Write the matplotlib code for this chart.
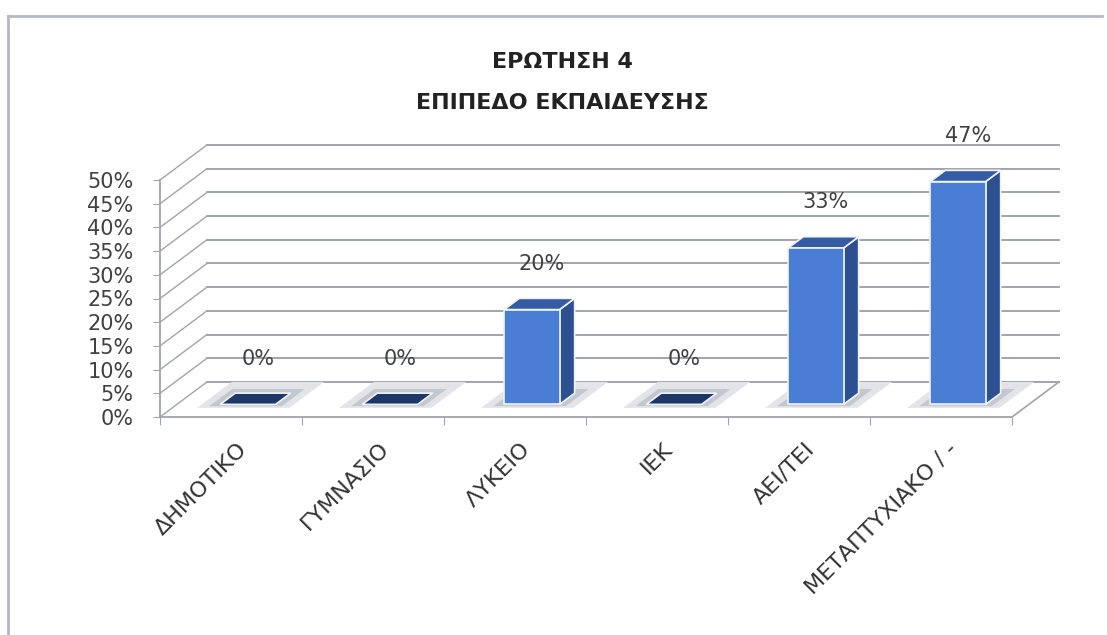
import numpy as np
import matplotlib.pyplot as plt
from matplotlib.patches import Polygon
from matplotlib.lines import Line2D

# --- data ---
categories = ["ΔΗΜΟΤΙΚΟ", "ΓΥΜΝΑΣΙΟ", "ΛΥΚΕΙΟ", "ΙΕΚ", "ΑΕΙ/ΤΕΙ", "ΜΕΤΑΠΤΥΧΙΑΚΟ / -"]
values = [0, 0, 20, 0, 33, 47]
yticks = [0, 5, 10, 15, 20, 25, 30, 35, 40, 45, 50]
title_lines = ["ΕΡΩΤΗΣΗ 4", "ΕΠΙΠΕΔΟ ΕΚΠΑΙΔΕΥΣΗΣ"]

# --- fake 3d projection (depth shifts right and up) ---
DX, DY = 0.331, 7.4      # full depth in x units / percent units
D0, D1 = 0.36, 0.68      # bar front / back depth
W = 0.39                 # bar width

grid_col = "#9fa4ae"
txt_col = "#404040"
front_col = "#4a7dd4"
side_col = "#2c5090"
top_col = "#345ca4"
flat_col = "#1d3768"


def proj(x, d, v):
    return (x + d * DX, v + d * DY)


fig = plt.figure(figsize=(11.07, 6.35), dpi=100)
ax = fig.add_axes([160 / 1107, 218 / 635, 852 / 1107, 237 / 635])
ax.set_xlim(0, len(categories))
ax.set_ylim(0, 50)
ax.patch.set_visible(False)


def face(pts, z, **kw):
    ax.add_patch(Polygon(pts, closed=True, clip_on=False, zorder=z, **kw))


n = len(categories)

# walls: back gridlines and side diagonals
for t in yticks:
    ax.plot([DX, n + DX], [t + DY, t + DY], color=grid_col, lw=1.4, clip_on=False, zorder=1)
    ax.plot([0, DX], [t, t + DY], color=grid_col, lw=1.0, clip_on=False, zorder=1)
# floor right edge
ax.plot([n, n + DX], [0, DY], color=grid_col, lw=1.2, clip_on=False, zorder=1)

# bars
for i, v in enumerate(values):
    c = i + 0.5
    x0, x1 = c - W / 2, c + W / 2
    # soft floor shadow
    face([proj(x0 - 0.13, D0 - 0.1, 0), proj(x1 + 0.13, D0 - 0.1, 0),
          proj(x1 + 0.13, min(D1 + 0.32, 1), 0), proj(x0 - 0.13, min(D1 + 0.32, 1), 0)],
         2, fc="#e2e4e8", ec="none")
    face([proj(x0 - 0.06, D0 - 0.05, 0), proj(x1 + 0.06, D0 - 0.05, 0),
          proj(x1 + 0.06, D1 + 0.12, 0), proj(x0 - 0.06, D1 + 0.12, 0)],
         2, fc="#c3c7cf", ec="none")
    if v == 0:
        face([proj(x0, D0, 0), proj(x1, D0, 0), proj(x1, D1, 0), proj(x0, D1, 0)],
             3, fc=flat_col, ec="#f0f3f8", lw=1.2)
    else:
        face([proj(x1, D0, 0), proj(x1, D1, 0), proj(x1, D1, v), proj(x1, D0, v)],
             3, fc=side_col, ec="#f0f3f8", lw=1.2)
        face([proj(x0, D0, v), proj(x1, D0, v), proj(x1, D1, v), proj(x0, D1, v)],
             3, fc=top_col, ec="#f0f3f8", lw=1.2)
        face([proj(x0, D0, 0), proj(x1, D0, 0), proj(x1, D0, v), proj(x0, D0, v)],
             3, fc=front_col, ec="#f0f3f8", lw=1.2)
    ax.text(c + 0.19, v + 12.3, f"{v}%", ha="center", va="center",
            fontsize=15, color=txt_col, zorder=5)

# axes styling
for s in ["top", "right"]:
    ax.spines[s].set_visible(False)
for s in ["left", "bottom"]:
    ax.spines[s].set_color(grid_col)
    ax.spines[s].set_linewidth(1.3)
ax.set_yticks(yticks)
ax.set_yticklabels([f"{t}%" for t in yticks])
ax.tick_params(axis="y", length=5, color=grid_col, labelsize=15,
               labelcolor=txt_col, pad=14)
ax.set_xticks(np.arange(n + 1))
ax.set_xticklabels([])
ax.tick_params(axis="x", length=6, color=grid_col)

for i, name in enumerate(categories):
    ax.text(i + 0.54, -4.6, name, rotation=45, ha="right", va="top",
            rotation_mode="anchor", fontsize=16, color="#333333", zorder=5)

# title
fig.text(562 / 1107, 1 - 62 / 635, title_lines[0], ha="center", va="center",
         fontsize=16, fontweight="bold", color="#222222")
fig.text(562 / 1107, 1 - 103 / 635, title_lines[1], ha="center", va="center",
         fontsize=16, fontweight="bold", color="#222222")

# chart frame
fig.add_artist(Line2D([8 / 1107, 8 / 1107], [0, 1 - 16 / 635],
                      transform=fig.transFigure, color="#b4b8c4", lw=2))
fig.add_artist(Line2D([8 / 1107, 1102 / 1107], [1 - 16 / 635, 1 - 16 / 635],
                      transform=fig.transFigure, color="#b4b8c4", lw=2))

plt.savefig("out.png", dpi=100)
